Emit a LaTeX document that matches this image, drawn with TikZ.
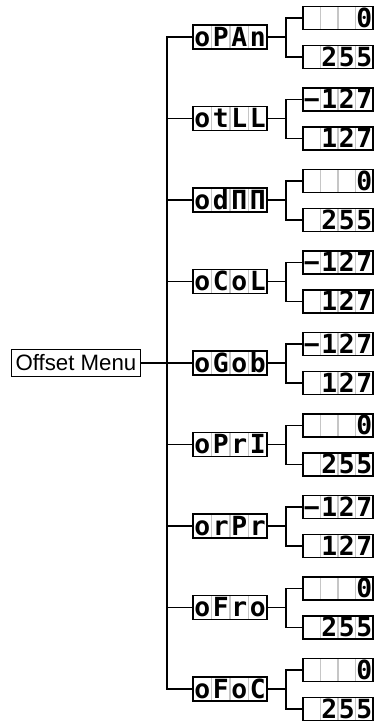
\documentclass[tikz,border=0pt]{standalone}
\usepackage{fontspec}
\setmainfont{Liberation Sans}
\newfontfamily\lcdfont{DejaVu Sans Mono}
\usetikzlibrary{positioning,calc}

\newlength\lcdw
\newcommand\lcd[4]{\makebox[\lcdw]{#1}\makebox[\lcdw]{#2}\makebox[\lcdw]{#3}\makebox[\lcdw]{#4}}
\newcommand\valzero{\lcd{}{}{}{0}}
\newcommand\valmax{\lcd{}{2}{5}{5}}
\newcommand\valneg{\lcd{−}{1}{2}{7}}
\newcommand\valpos{\lcd{}{1}{2}{7}}

\begin{document}
\begin{tikzpicture}[x=0.03cm, y=-0.03cm, line width=1.3pt,
    lcd/.style={draw, inner xsep=0pt, inner ysep=0pt, text height=16.2pt, text depth=0pt,
      path picture={\foreach \k in {1,2,3}
        \draw[gray!45, line width=1pt]
          ($(path picture bounding box.north west)!\k/4!(path picture bounding box.north east)$) --
          ($(path picture bounding box.south west)!\k/4!(path picture bounding box.south east)$);}},
    menu/.style={lcd, minimum width=2.22cm, minimum height=0.72cm,
      font={\lcdfont\bfseries\fontsize{22.5}{22.5}\selectfont\setlength\lcdw{0.555cm}}},
    val/.style={lcd, minimum width=2.1cm, minimum height=0.70cm,
      font={\lcdfont\bfseries\fontsize{22.5}{22.5}\selectfont\setlength\lcdw{0.525cm}}}]
    \useasboundingbox (0,0) rectangle (377,723);

    \foreach \a/\b/\c/\d/\hi/\lo [count=\i] in {o/P/A/n/\valzero/\valmax, o/t/L/L/\valneg/\valpos,
        o/d/Π/Π/\valzero/\valmax, o/C/o/L/\valneg/\valpos, o/G/o/b/\valneg/\valpos,
        o/P/r/I/\valzero/\valmax, o/r/P/r/\valneg/\valpos, o/F/r/o/\valzero/\valmax,
        o/F/o/C/\valzero/\valmax} {
      \node[menu] (m\i) at (230,{37+81.5*(\i-1)}) {\lcd{\a}{\b}{\c}{\d}};
      \node[val] (hi\i) at (338,{18+81.5*(\i-1)}) {\hi};
      \node[val] (lo\i) at (338,{57+81.5*(\i-1)}) {\lo};
      \draw (m\i.east) -- ++(18,0) coordinate (b\i);
      \draw (hi\i.west) -| (b\i) |- (lo\i.west);
    }

    \node[draw, inner xsep=0pt, minimum width=3.87cm, minimum height=0.81cm,
      font=\fontsize{19}{19}\selectfont, left=1.53cm of m5] (offset) {Offset Menu};
    \coordinate (trunk) at (167,363);

    \draw (offset) -- (m5);
    \draw (m1.west) -| (trunk) |- (m9.west);
    \foreach \i in {2,3,4,6,7,8}
      \draw (m\i.west) -- (m\i.west -| trunk);
\end{tikzpicture}
\end{document}
